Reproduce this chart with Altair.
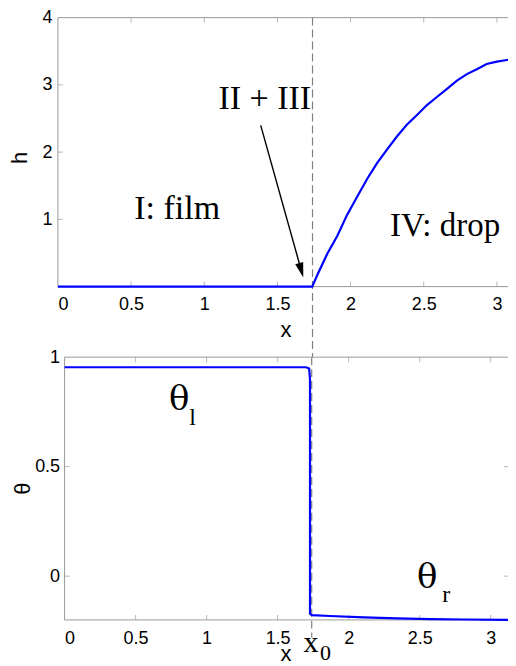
import altair as alt
import pandas as pd

# ---------------- data ----------------
h_x = [0.0, 1.738, 1.772, 1.84, 1.909, 1.977, 2.045, 2.113, 2.181, 2.25, 2.318, 2.386,
       2.454, 2.522, 2.590, 2.659, 2.727, 2.795, 2.863, 2.93, 3.0, 3.068, 3.11]
h_y = [0.0, 0.0, 0.168, 0.485, 0.752, 1.07, 1.336, 1.60, 1.837, 2.04, 2.236, 2.41,
       2.552, 2.70, 2.82, 2.94, 3.063, 3.16, 3.234, 3.31, 3.346, 3.37, 3.38]

th_x = [0.0, 1.70, 1.722, 1.728, 1.728, 1.74, 1.87, 2.108, 2.34, 2.58, 2.81, 3.127]
th_y = [0.954, 0.954, 0.948, 0.90, -0.172, -0.178, -0.182, -0.188, -0.193, -0.196, -0.198, -0.2]

x0 = 1.74
x_ticks = [0, 0.5, 1, 1.5, 2, 2.5, 3]
x_inner = [0.5, 1, 1.5, 2, 2.5, 3]
h_ticks = [1, 2, 3, 4]
h_inner = [1, 2, 3]
th_ticks = [0, 0.5, 1]
th_inner = [0, 0.5]
x_dom_top = [0, 3.11]
x_dom_bot = [0, 3.127]
h_dom = [0, 4]
th_dom = [-0.2, 1]

# annotations (data coordinates)
top_labels = ["II + III", "I: film", "IV: drop"]
top_lab_x = [1.414, 0.815, 2.27]
top_lab_y = [2.645, 1.012, 0.75]
top_lab_align = ["center", "center", "left"]
top_lab_size = [34, 34, 33]
arrow_x = [1.386, 1.663]
arrow_y = [2.397, 0.243]

bot_big = ["θ", "θ"]
bot_big_x = [0.807, 2.553]
bot_big_y = [0.757, -0.0547]
bot_sub = ["l", "r"]
bot_sub_x = [0.878, 2.66]
bot_sub_y = [0.689, -0.1186]
x0_lab_x = [1.682]
x0_lab_y = [-0.345]
x0_sub_x = [1.799]
x0_sub_y = [-0.383]

GRAY = "#9a9a9a"
DASH = "#808080"
BLUE = "#0000ff"
SANS = "Liberation Sans"
SERIF = "Liberation Serif"
GREEK = "DejaVu Serif"

# ---------------- helpers ----------------
def panel(xs, ys, x_dom, y_dom, x_in, y_in, xa, ya, curve, rule_y):
    def X(f):
        return alt.X(f, scale=xs, axis=xa)

    def Y(f):
        return alt.Y(f, scale=ys, axis=ya)

    frame_df = pd.DataFrame({"a": [x_dom[0]], "b": [x_dom[1]], "c": [y_dom[0]], "d": [y_dom[1]]})
    frame = alt.Chart(frame_df).mark_rect(fillOpacity=0, stroke=GRAY, strokeWidth=1).encode(
        x=X("a:Q"), x2="b:Q", y=Y("c:Q"), y2="d:Q")
    xt = pd.DataFrame({"v": x_in, "lo": y_dom[0], "hi": y_dom[1]})
    yt = pd.DataFrame({"v": y_in, "lo": x_dom[0], "hi": x_dom[1]})
    tk = dict(color=GRAY, size=5, thickness=1)
    tb = alt.Chart(xt).mark_tick(orient="vertical", yOffset=-2.5, **tk).encode(x=X("v:Q"), y=Y("lo:Q"))
    tt = alt.Chart(xt).mark_tick(orient="vertical", yOffset=2.5, **tk).encode(x=X("v:Q"), y=Y("hi:Q"))
    tl = alt.Chart(yt).mark_tick(orient="horizontal", xOffset=2.5, **tk).encode(y=Y("v:Q"), x=X("lo:Q"))
    tr = alt.Chart(yt).mark_tick(orient="horizontal", xOffset=-2.5, **tk).encode(y=Y("v:Q"), x=X("hi:Q"))
    cdf = pd.DataFrame({"x": curve[0], "y": curve[1], "i": list(range(len(curve[0])))})
    line = alt.Chart(cdf).mark_line(color=BLUE, strokeWidth=2.2).encode(
        x=X("x:Q"), y=Y("y:Q"), order="i:Q")
    rdf = pd.DataFrame({"x": [x0], "y1": [rule_y[0]], "y2": [rule_y[1]]})
    rule = alt.Chart(rdf).mark_rule(color=DASH, strokeDash=[8, 4], strokeWidth=1.2).encode(
        x=X("x:Q"), y=Y("y1:Q"), y2="y2:Q")
    return [frame, tb, tt, tl, tr, rule, line], X, Y


def txt(X, Y, labels, xv, yv, size, align="left", font=SERIF):
    df = pd.DataFrame({"t": labels, "x": xv, "y": yv})
    return alt.Chart(df).mark_text(font=font, fontSize=size, align=align,
                                   baseline="alphabetic", color="black").encode(
        x=X("x:Q"), y=Y("y:Q"), text="t:N")

axis_common = dict(grid=False, domain=False, ticks=False, labelFont=SANS, labelFontSize=18,
                   labelColor="black", titleFont=SANS, titleFontSize=22,
                   titleFontWeight="normal", titleColor="black", format="~g")

# ---------------- top panel ----------------
xs_t = alt.Scale(domain=x_dom_top, nice=False, zero=False)
ys_t = alt.Scale(domain=h_dom, nice=False, zero=False)
xa_t = alt.Axis(values=x_ticks, labelPadding=9, title="x", titleBaseline="alphabetic",
                titleY=49.5, **axis_common)
ya_t = alt.Axis(values=h_ticks, labelPadding=6, title="h", titleBaseline="alphabetic",
                titleX=-31.7, titleY=140, **axis_common)
top_layers, Xt, Yt = panel(xs_t, ys_t, x_dom_top, h_dom, x_inner, h_inner, xa_t, ya_t,
                           (h_x, h_y), (4, -1.05))
for lab, xv, yv, al, sz in zip(top_labels, top_lab_x, top_lab_y, top_lab_align, top_lab_size):
    top_layers.append(txt(Xt, Yt, [lab], [xv], [yv], sz, al))
adf = pd.DataFrame({"x": [arrow_x[0]], "y": [arrow_y[0]], "x2": [arrow_x[1]], "y2": [arrow_y[1]]})
top_layers.append(alt.Chart(adf).mark_rule(color="black", strokeWidth=1.4).encode(
    x=Xt("x:Q"), y=Yt("y:Q"), x2="x2:Q", y2="y2:Q"))
hdf = pd.DataFrame({"x": [arrow_x[1]], "y": [arrow_y[1]]})
top_layers.append(alt.Chart(hdf).mark_point(shape="M0,-1L0.55,1L-0.55,1Z", size=225, filled=True,
                                            color="black", opacity=1, angle=164.3).encode(
    x=Xt("x:Q"), y=Yt("y:Q")))
top = alt.layer(*top_layers).properties(width=456, height=269.5)

# ---------------- bottom panel ----------------
xs_b = alt.Scale(domain=x_dom_bot, nice=False, zero=False, range=[6.7, 451.7])
ys_b = alt.Scale(domain=th_dom, nice=False, zero=False)
xa_b = alt.Axis(values=x_ticks, labelPadding=10, title="x", titleBaseline="alphabetic",
                titleY=41, titleX=228, **axis_common)
ya_b = alt.Axis(values=th_ticks, labelPadding=5, offset=-6.7, title="θ",
                titleBaseline="alphabetic", titleX=-35, titleY=131.3, **axis_common)
bot_layers, Xb, Yb = panel(xs_b, ys_b, x_dom_bot, th_dom, x_inner, th_inner, xa_b, ya_b,
                           (th_x, th_y), (1, -0.28))
bot_layers.append(txt(Xb, Yb, bot_big, bot_big_x, bot_big_y, 34, "center", GREEK))
bot_layers.append(txt(Xb, Yb, bot_sub, bot_sub_x, bot_sub_y, 24))
bot_layers.append(txt(Xb, Yb, ["x"], x0_lab_x, x0_lab_y, 30))
bot_layers.append(txt(Xb, Yb, ["0"], x0_sub_x, x0_sub_y, 22))
bottom = alt.layer(*bot_layers).properties(width=452, height=263.3)

chart = alt.vconcat(top, bottom, spacing=70.2, bounds="flush").properties(
    padding={"left": 0, "top": 0, "right": -10, "bottom": 0},
    background="white",
).configure_view(stroke=None)

chart.save("out.html", embed_options={"renderer": "svg", "actions": False})
